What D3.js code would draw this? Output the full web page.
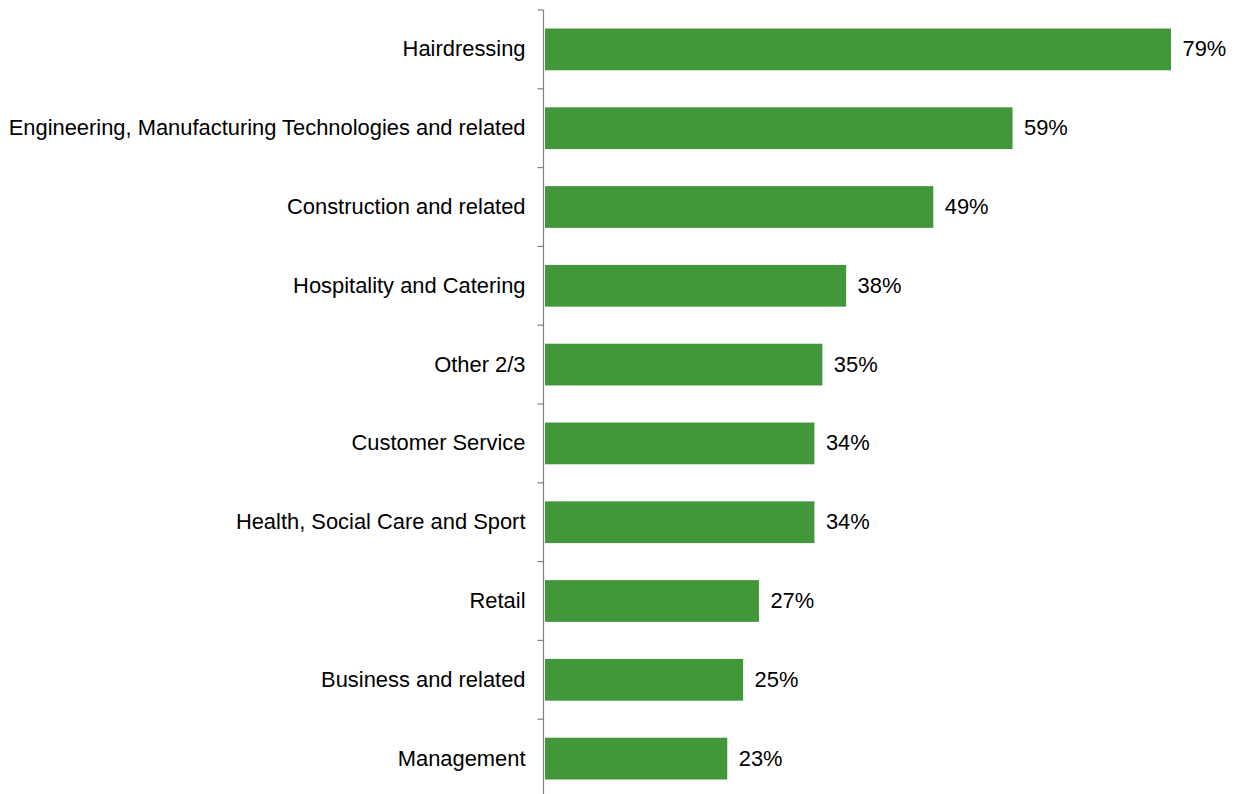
<!DOCTYPE html>
<html>
<head>
<meta charset="utf-8">
<script src="https://cdn.jsdelivr.net/npm/d3@7"></script>
<style>
  html, body { margin: 0; padding: 0; background: #fff; }
  svg { display: block; }
  text { font-family: "Liberation Sans", Arial, sans-serif; fill: #000; }
</style>
</head>
<body>
<svg id="chart" width="1234" height="794"></svg>
<script>
// Share of learners by sector subject area (%)
const categories = [
  "Hairdressing",
  "Engineering, Manufacturing Technologies and related",
  "Construction and related",
  "Hospitality and Catering",
  "Other 2/3",
  "Customer Service",
  "Health, Social Care and Sport",
  "Retail",
  "Business and related",
  "Management"
];
const values = [79, 59, 49, 38, 35, 34, 34, 27, 25, 23];

const svg = d3.select("#chart");
const axisX = 543.5;
const barColor = "#43973B";
const fontSize = 21.9;

const x = d3.scaleLinear().domain([0, 79]).range([axisX + 1.5, 1171]);
const y = d3.scaleBand().domain(categories).range([10, 798]).paddingInner(0.47).paddingOuter(0.235);

// bars
svg.append("g").selectAll("rect")
  .data(values)
  .join("rect")
  .attr("x", x(0))
  .attr("y", (d, i) => y(categories[i]))
  .attr("width", d => x(d) - x(0))
  .attr("height", y.bandwidth())
  .attr("fill", barColor);

// value labels
svg.append("g").selectAll("text")
  .data(values)
  .join("text")
  .attr("x", d => x(d) + 11.5)
  .attr("y", (d, i) => y(categories[i]) + y.bandwidth() / 2)
  .attr("dy", "0.32em")
  .attr("font-size", fontSize)
  .text(d => d + "%");

// category labels
svg.append("g").selectAll("text")
  .data(categories)
  .join("text")
  .attr("x", axisX - 18)
  .attr("y", d => y(d) + y.bandwidth() / 2)
  .attr("dy", "0.32em")
  .attr("text-anchor", "end")
  .attr("font-size", fontSize)
  .text(d => d);

// vertical axis with ticks between categories
const axisG = svg.append("g");
axisG.append("line")
  .attr("x1", axisX).attr("x2", axisX)
  .attr("y1", 10).attr("y2", 798)
  .attr("stroke", "#808080").attr("stroke-width", 1.2);
const step = y.step();
const tickYs = d3.range(categories.length + 1).map(i => y.range()[0] + i * step);
axisG.selectAll("line.tick")
  .data(tickYs)
  .join("line")
  .attr("class", "tick")
  .attr("x1", axisX - 6).attr("x2", axisX)
  .attr("y1", d => d).attr("y2", d => d)
  .attr("stroke", "#808080").attr("stroke-width", 1.2);
</script>
</body>
</html>
